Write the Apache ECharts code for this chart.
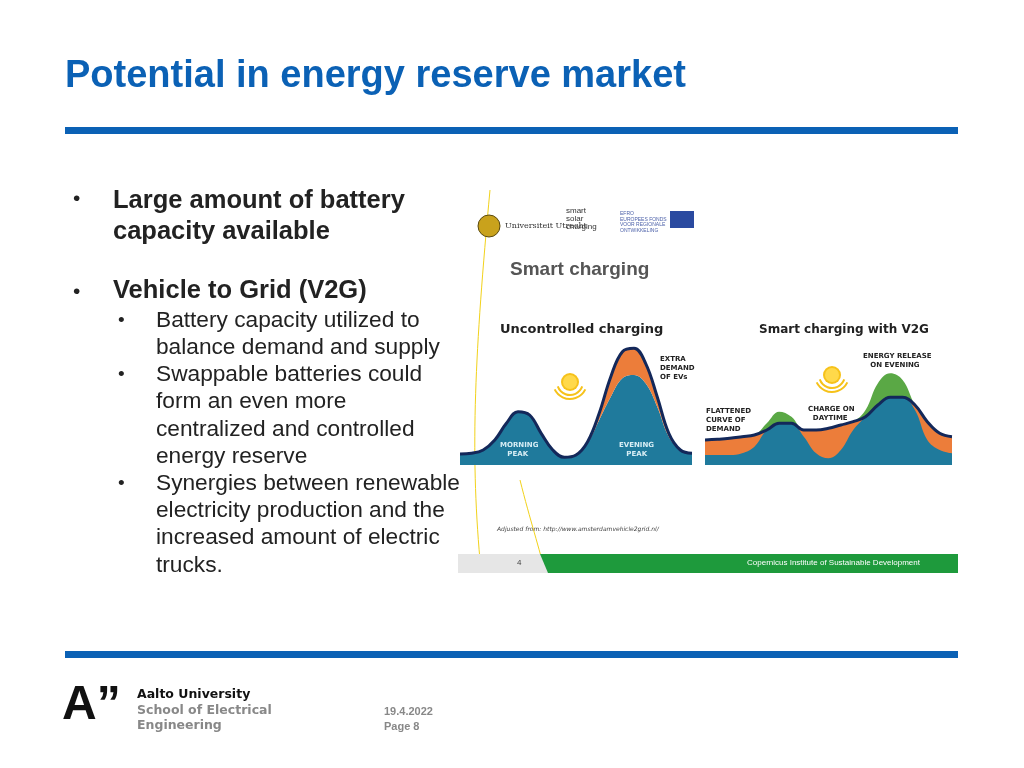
<!DOCTYPE html>
<html lang="en">
<head>
<meta charset="UTF-8">
<title>Potential in energy reserve market</title>
<style>
  html, body { margin: 0; padding: 0; background: #fff; }
  #main { width: 1024px; height: 768px; }
</style>
</head>
<body>
<div id="main"></div>
<script src="https://cdn.jsdelivr.net/npm/echarts@6/dist/echarts.min.js"></script>
<script>
// time steps along the day (hidden axis)
const steps = ['0','1','2','3','4','5','6','7','8','9','10','11','12','13','14','15','16','17','18','19','20'];

// uncontrolled charging: base demand and demand incl. EVs
const baseDemand = [11, 11.7, 15, 25, 41.7, 53.3, 50, 31.7, 15, 7.7, 10, 21.7, 45, 68.3, 86.7, 90, 81.7, 58.3, 28.3, 15, 11.7];
const totalDemand = [11, 11.7, 15, 25, 41.7, 53.3, 50, 31.7, 15, 7.7, 10, 23.3, 51.7, 88.3, 113.3, 116.7, 101.7, 68.3, 31.7, 15, 11.7];
const evExtra = totalDemand.map((v, i) => +(v - baseDemand[i]).toFixed(1));

// smart charging with V2G: flattened curve and underlying base demand
const flatCurve = [25, 25.7, 26.7, 28.3, 30, 35, 41.7, 41.7, 35, 35, 36.7, 40, 43.3, 48.3, 60, 67.7, 67.7, 60, 43.3, 31.7, 28.3];
const v2gBase = [10, 10, 10, 11.7, 18.3, 41.7, 53.3, 48.3, 28.3, 11.7, 6.7, 15, 35, 55, 81.7, 91.7, 85, 55, 25, 15, 11.7];
const greenTop = flatCurve.map((v, i) => Math.max(v, v2gBase[i]));
const tealTop = flatCurve.map((v, i) => Math.min(v, v2gBase[i]));

const TEAL = '#1f7a9c', ORANGE = '#ec7d3a', GREEN = '#5aa845', NAVY = '#13285a';
const dark = '#222', blue = '#0b61b5';
const ARIAL = 'Liberation Sans';

function txt(x, y, t, size, opt) {
  return { type: 'text', left: x, top: y, z: 10, style: Object.assign({ text: t, fontFamily: ARIAL, fontSize: size, fill: dark }, opt || {}) };
}
function sun(cx, cy) {
  return [
    { type: 'circle', shape: { cx: cx, cy: cy, r: 9 }, style: { fill: '#f6c21a' } },
    { type: 'circle', shape: { cx: cx, cy: cy, r: 7 }, style: { fill: '#ffd94a' } },
    { type: 'arc', shape: { cx: cx, cy: cy, r: 13, startAngle: 0.35, endAngle: Math.PI - 0.35 }, style: { stroke: '#f6c21a', lineWidth: 2, fill: null } },
    { type: 'arc', shape: { cx: cx, cy: cy, r: 17, startAngle: 0.45, endAngle: Math.PI - 0.45 }, style: { stroke: '#f6c21a', lineWidth: 2, fill: null } }
  ];
}
function small(x, y, t, color) {
  return txt(x, y, t, 7, { fontFamily: 'DejaVu Sans', fontWeight: 'bold', fill: color || '#222', lineHeight: 9 });
}

const chart = echarts.init(document.getElementById('main'));
const option = {
  animation: false,
  backgroundColor: '#fff',
  grid: [
    { left: 460, top: 345, width: 232, height: 120 },
    { left: 705, top: 345, width: 247, height: 120 }
  ],
  xAxis: [
    { type: 'category', data: steps, boundaryGap: false, show: false, gridIndex: 0 },
    { type: 'category', data: steps, boundaryGap: false, show: false, gridIndex: 1 }
  ],
  yAxis: [
    { type: 'value', min: 0, max: 120, show: false, gridIndex: 0 },
    { type: 'value', min: 0, max: 120, show: false, gridIndex: 1 }
  ],
  series: [
    { type: 'line', xAxisIndex: 0, yAxisIndex: 0, stack: 'u', data: baseDemand, smooth: 0.4, symbol: 'none', lineStyle: { width: 0 }, areaStyle: { color: TEAL, opacity: 1 } },
    { type: 'line', xAxisIndex: 0, yAxisIndex: 0, stack: 'u', data: evExtra, smooth: 0.4, symbol: 'none', lineStyle: { color: NAVY, width: 3 }, areaStyle: { color: ORANGE, opacity: 1 } },
    { type: 'line', xAxisIndex: 1, yAxisIndex: 1, data: greenTop, smooth: 0.4, symbol: 'none', lineStyle: { width: 0 }, areaStyle: { color: GREEN, opacity: 1 } },
    { type: 'line', xAxisIndex: 1, yAxisIndex: 1, data: flatCurve, smooth: 0.4, symbol: 'none', lineStyle: { width: 0 }, areaStyle: { color: ORANGE, opacity: 1 } },
    { type: 'line', xAxisIndex: 1, yAxisIndex: 1, data: tealTop, smooth: 0.4, symbol: 'none', lineStyle: { width: 0 }, areaStyle: { color: TEAL, opacity: 1 } },
    { type: 'line', xAxisIndex: 1, yAxisIndex: 1, data: flatCurve, smooth: 0.4, symbol: 'none', lineStyle: { color: NAVY, width: 3 } }
  ],
  graphic: [
    // slide frame
    txt(65, 58, 'Potential in energy reserve market', 38, { fontWeight: 'bold', fill: blue }),
    { type: 'rect', shape: { x: 65, y: 127, width: 893, height: 7 }, style: { fill: blue } },
    { type: 'rect', shape: { x: 65, y: 651, width: 893, height: 7 }, style: { fill: blue } },
    // bullets
    txt(73, 189, '•', 21),
    txt(113, 185, 'Large amount of battery\ncapacity available', 25.5, { fontWeight: 'bold', lineHeight: 31 }),
    txt(73, 282, '•', 21),
    txt(113, 278, 'Vehicle to Grid (V2G)', 25.5, { fontWeight: 'bold' }),
    txt(118, 311, '•', 19),
    txt(118, 365, '•', 19),
    txt(118, 474, '•', 19),
    txt(156, 307, 'Battery capacity utilized to\nbalance demand and supply\nSwappable batteries could\nform an even more\ncentralized and controlled\nenergy reserve\nSynergies between renewable\nelectricity production and the\nincreased amount of electric\ntrucks.', 22.7, { lineHeight: 27.2 }),
    // embedded slide decoration
    { type: 'bezierCurve', shape: { x1: 490, y1: 190, x2: 480, y2: 560, cpx1: 475, cpy1: 350, cpx2: 470, cpy2: 450 }, style: { stroke: '#f2d21b', lineWidth: 1, fill: null }, z: -1 },
    { type: 'bezierCurve', shape: { x1: 520, y1: 480, x2: 545, y2: 573, cpx1: 530, cpy1: 520, cpx2: 540, cpy2: 550 }, style: { stroke: '#f2d21b', lineWidth: 1, fill: null } },
    { type: 'circle', shape: { cx: 489, cy: 226, r: 11 }, style: { fill: '#c9a21c', stroke: '#5a4a10', lineWidth: 1 } },
    txt(505, 222, 'Universiteit Utrecht', 8, { fontFamily: 'DejaVu Serif', fill: '#333' }),
    txt(566, 207, 'smart\nsolar\ncharging', 8, { fill: '#333', lineHeight: 8 }),
    txt(620, 211, 'EFRO\nEUROPEES FONDS\nVOOR REGIONALE\nONTWIKKELING', 5, { fill: '#4a5fa8', lineHeight: 5.5 }),
    { type: 'rect', shape: { x: 670, y: 211, width: 24, height: 17 }, style: { fill: '#2a4aa0' } },
    txt(510, 260, 'Smart charging', 19, { fontWeight: 'bold', fill: '#555' }),
    txt(500, 323, 'Uncontrolled charging', 13, { fontFamily: 'DejaVu Sans', fontWeight: 'bold' }),
    txt(759, 324, 'Smart charging with V2G', 12, { fontFamily: 'DejaVu Sans', fontWeight: 'bold' }),
    small(660, 355, 'EXTRA\nDEMAND\nOF EVs'),
    small(863, 352, 'ENERGY RELEASE\n   ON EVENING'),
    small(706, 407, 'FLATTENED\nCURVE OF\nDEMAND'),
    small(808, 405, 'CHARGE ON\n  DAYTIME'),
    small(500, 441, 'MORNING\n   PEAK', '#d8eef5'),
    small(619, 441, 'EVENING\n   PEAK', '#d8eef5'),
    ...sun(570, 382),
    ...sun(832, 375),
    txt(497, 526, 'Adjusted from: http://www.amsterdamvehicle2grid.nl/', 6, { fontFamily: 'DejaVu Sans', fontStyle: 'italic', fill: '#444' }),
    { type: 'rect', shape: { x: 458, y: 554, width: 90, height: 19 }, style: { fill: '#e6e6e6' } },
    { type: 'polygon', shape: { points: [[540, 554], [958, 554], [958, 573], [548, 573]] }, style: { fill: '#1e9a3c' } },
    txt(517, 559, '4', 8, { fill: '#444' }),
    txt(747, 559, 'Copernicus Institute of Sustainable Development', 8, { fill: '#fff' }),
    // footer
    txt(62, 682, 'A\u201D', 48, { fontWeight: 'bold', fill: '#111' }),
    txt(137, 688, 'Aalto University', 12.5, { fontFamily: 'DejaVu Sans', fontWeight: 'bold', fill: '#111' }),
    txt(137, 703, 'School of Electrical\nEngineering', 12.5, { fontFamily: 'DejaVu Sans', fontWeight: 'bold', fill: '#888', lineHeight: 15 }),
    txt(384, 704, '19.4.2022\nPage 8', 11, { fontWeight: 'bold', fill: '#888', lineHeight: 15 })
  ]
};
chart.setOption(option);
</script>
</body>
</html>
